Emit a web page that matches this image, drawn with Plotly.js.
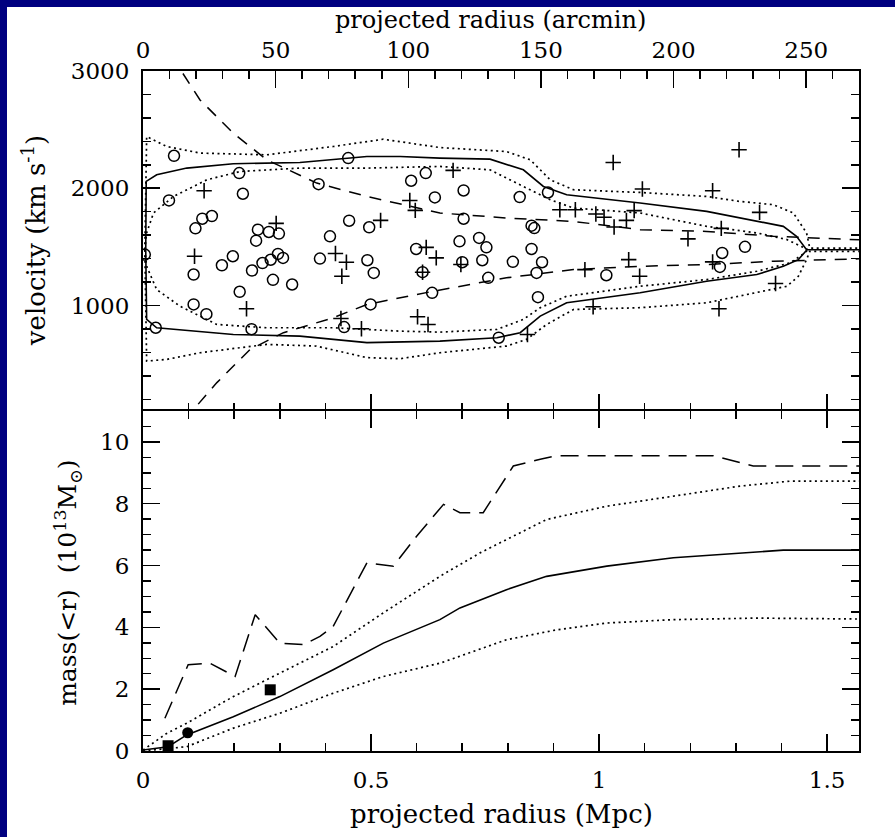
<!DOCTYPE html>
<html>
<head>
<meta charset="utf-8">
<script src="https://cdn.plot.ly/plotly-3.0.1.min.js"></script>
<style>
  html, body { margin:0; padding:0; background:#fff; width:895px; height:837px; overflow:hidden; }
  #plot { position:absolute; left:0; top:0; width:895px; height:837px; background:#fff; }
  .band { position:absolute; background:#000080; z-index:5; }
</style>
</head>
<body>
<div id="plot"></div>
<div class="band" style="left:0;top:0;width:895px;height:7px;"></div>
<div class="band" style="left:0;top:0;width:7px;height:837px;"></div>
<script>
// ---------- Top panel: galaxies (projected radius in Mpc, velocity in km/s) ----------
const circR = [0.068,0.211,0.057,0.219,0.151,0.130,0.115,0.252,0.276,0.298,0.248,0.004,0.197,0.173,0.111,0.239,0.262,0.280,0.296,0.307,0.285,0.327,0.212,0.111,0.139,0.028,0.238,0.388,0.385,
  0.450,0.588,0.620,0.703,0.640,0.452,0.496,0.410,0.492,0.506,0.599,0.613,0.694,0.737,0.753,0.700,0.744,0.757,0.703,0.634,0.499,0.441,0.780,
  0.826,0.888,0.852,0.858,0.852,0.811,0.875,0.863,0.866,1.016,
  1.320,1.270,1.265];
const circV = [2277,2129,1896,1953,1763,1740,1658,1647,1627,1613,1553,1434,1420,1343,1264,1298,1362,1390,1440,1406,1219,1179,1117,1009,926,810,798,1400,2035,
  2257,2064,2129,1981,1922,1723,1667,1590,1386,1278,1482,1284,1547,1576,1496,1369,1386,1236,1740,1108,1009,816,725,
  1925,1964,1681,1660,1482,1372,1369,1278,1071,1258,
  1500,1448,1329];
const plusR = [0.134,0.113,0.227,0.292,
  0.680,0.585,0.597,0.521,0.422,0.446,0.436,0.621,0.643,0.697,0.613,0.602,0.625,0.479,0.434,
  1.031,1.095,0.914,0.948,0.993,1.011,1.033,1.060,1.077,0.969,1.065,1.089,0.987,0.843,
  1.307,1.249,1.352,1.268,1.195,1.249,1.387,1.263];
const plusV = [1979,1420,972,1700,
  2152,1896,1811,1726,1443,1369,1249,1496,1406,1349,1284,904,838,802,889,
  2220,1993,1817,1817,1780,1752,1670,1726,1809,1306,1391,1249,989,753,
  2328,1979,1794,1658,1568,1372,1187,972];

// caustics (solid)
const causUpR = [0.006,0.007,0.030,0.096,0.198,0.344,0.491,0.564,0.651,0.761,0.834,0.878,0.929,1.090,1.236,1.346,1.404,1.433,1.455,1.570];
const causUpV = [1476,2058,2115,2172,2209,2220,2271,2271,2257,2248,2157,2015,1945,1874,1803,1717,1675,1590,1476,1476];
const causLoR = [0.006,0.008,0.030,0.198,0.344,0.491,0.651,0.776,0.827,0.871,0.929,1.090,1.236,1.346,1.404,1.437,1.455];
const causLoV = [1476,881,810,753,739,683,696,725,768,909,1023,1108,1207,1264,1334,1391,1471];

// dotted outer envelopes
const dotOutUpR = [0.004,0.008,0.052,0.125,0.271,0.417,0.527,0.651,0.797,0.849,0.893,0.944,1.090,1.236,1.308,1.382,1.426,1.455,1.462,1.570];
const dotOutUpV = [1476,2441,2356,2300,2285,2356,2418,2347,2313,2243,2072,1987,1964,1930,1888,1860,1789,1619,1490,1490];
const dotOutLoR = [0.004,0.008,0.052,0.125,0.271,0.380,0.491,0.564,0.651,0.797,0.841,0.885,0.944,1.090,1.236,1.346,1.412,1.437,1.455,1.462,1.570];
const dotOutLoV = [1476,526,540,597,668,654,555,546,597,654,711,838,966,981,1023,1108,1164,1249,1391,1462,1462];
// dotted inner envelopes
const dotInUpR = [0.004,0.008,0.023,0.067,0.140,0.213,0.344,0.491,0.651,0.761,0.834,0.893,0.944,1.090,1.236,1.346,1.412,1.448,1.458];
const dotInUpV = [1476,1619,1789,1930,2072,2143,2172,2172,2186,2157,2015,1902,1831,1789,1675,1619,1562,1491,1476];
const dotInLoR = [0.004,0.008,0.030,0.081,0.162,0.271,0.417,0.564,0.651,0.776,0.834,0.871,0.929,1.090,1.236,1.346,1.419,1.451,1.458];
const dotInLoV = [1476,1334,1136,994,838,810,810,781,773,796,881,981,1079,1164,1221,1292,1363,1448,1476];

// dashed escape-velocity curves
const dashUpR = [0.075,0.085,0.125,0.198,0.271,0.381,0.491,0.651,0.797,0.944,1.090,1.236,1.382,1.570];
const dashUpV = [3150,2994,2753,2470,2243,2044,1930,1789,1746,1717,1647,1632,1590,1560];
const dashLoR = [0.102,0.110,0.162,0.235,0.308,0.417,0.491,0.637,0.797,0.944,1.090,1.236,1.382,1.570];
const dashLoV = [0,109,342,626,768,895,1009,1122,1236,1306,1334,1349,1377,1398];

// ---------- Bottom panel: mass profile (10^13 Msun) ----------
const massR = [0,0.055,0.096,0.198,0.300,0.417,0.527,0.651,0.695,0.797,0.885,1.017,1.163,1.309,1.404,1.570];
const massM = [0.03,0.14,0.52,1.11,1.76,2.63,3.49,4.25,4.63,5.22,5.65,5.98,6.25,6.41,6.50,6.50];
const massHiR = [0,0.052,0.096,0.198,0.300,0.417,0.527,0.651,0.739,0.885,1.017,1.163,1.309,1.419,1.570];
const massHiM = [0.03,0.57,0.90,1.76,2.52,3.38,4.47,5.65,6.41,7.49,7.92,8.25,8.57,8.73,8.73];
const massLoR = [0,0.096,0.198,0.300,0.417,0.527,0.651,0.797,0.907,1.017,1.163,1.346,1.570];
const massLoM = [0,0.14,0.74,1.22,1.87,2.41,2.84,3.60,3.92,4.14,4.25,4.30,4.27];
const massDashR = [0.048,0.099,0.147,0.202,0.246,0.300,0.352,0.388,0.417,0.491,0.549,0.600,0.659,0.695,0.746,0.812,0.871,0.907,1.251,1.338,1.570];
const massDashM = [1.06,2.79,2.84,2.41,4.41,3.49,3.44,3.71,4.03,6.09,5.98,6.95,7.98,7.71,7.71,9.22,9.44,9.55,9.55,9.22,9.22];
const sqR = [0.055,0.279];
const sqM = [0.17,1.98];
const dotR = [0.098];
const dotM = [0.59];

// axis ranges
const mpcRange = [0, 1.57];
const arcminRange = [0, 269.9];
const velRange = [100, 3000];
const massRange = [0, 11];

const FONT = 'DejaVu Serif, Liberation Serif, serif';
const blk = '#000';

function line(x, y, xa, ya, dash, w) {
  return {x:x, y:y, xaxis:xa, yaxis:ya, type:'scatter', mode:'lines',
          line:{color:blk, width:w||1.5, dash:dash||'solid'}, hoverinfo:'skip'};
}
const dotted = '2px,3.5px';

const traces = [
  line(dotOutUpR, dotOutUpV, 'x2','y', dotted, 1.7),
  line(dotOutLoR, dotOutLoV, 'x2','y', dotted, 1.7),
  line(dotInUpR, dotInUpV, 'x2','y', dotted, 1.7),
  line(dotInLoR, dotInLoV, 'x2','y', dotted, 1.7),
  line(causUpR, causUpV, 'x2','y', 'solid', 1.6),
  line(causLoR, causLoV, 'x2','y', 'solid', 1.6),
  line(dashUpR, dashUpV, 'x2','y', '12px,9px'),
  line(dashLoR, dashLoV, 'x2','y', '12px,9px'),
  {x:circR, y:circV, xaxis:'x2', yaxis:'y', type:'scatter', mode:'markers',
   marker:{symbol:'circle-open', size:11, color:blk, line:{width:1.5, color:blk}}},
  {x:plusR, y:plusV, xaxis:'x2', yaxis:'y', type:'scatter', mode:'markers',
   marker:{symbol:'cross-thin-open', size:11, color:blk, line:{width:1.6, color:blk}}},
  // invisible trace so the arcmin axis is drawn
  {x:arcminRange, y:[-1e5,-1e5], xaxis:'x3', yaxis:'y', type:'scatter', mode:'markers', marker:{opacity:0}, hoverinfo:'skip'},

  line(massHiR, massHiM, 'x','y2', dotted, 1.7),
  line(massLoR, massLoM, 'x','y2', dotted, 1.7),
  line(massR, massM, 'x','y2', 'solid', 1.6),
  line(massDashR, massDashM, 'x','y2', '18px,9px'),
  {x:sqR, y:sqM, xaxis:'x', yaxis:'y2', type:'scatter', mode:'markers',
   marker:{symbol:'square', size:11, color:blk}},
  {x:dotR, y:dotM, xaxis:'x', yaxis:'y2', type:'scatter', mode:'markers',
   marker:{symbol:'circle', size:11, color:blk}}
];

const tickfont = {family:FONT, size:23, color:blk};
const minorT = {ticks:'inside', ticklen:8, tickcolor:blk, tickwidth:1.5};
const axBase = {showline:true, linecolor:blk, linewidth:2, showgrid:false, zeroline:false,
  ticks:'inside', tickcolor:blk, tickwidth:1.5, ticklen:17, tickfont:tickfont, ticklabelstandoff:7};

const layout = {
  width:895, height:837,
  margin:{l:143, r:36, t:71, b:86, pad:0},
  paper_bgcolor:'#fff', plot_bgcolor:'#fff',
  showlegend:false,
  font:{family:FONT, color:blk},
  xaxis: Object.assign({}, axBase, {domain:[0,1], anchor:'y2', range:mpcRange, dtick:0.5, tick0:0,
    mirror:'ticks', minor:Object.assign({dtick:0.1}, minorT)}),
  xaxis2: Object.assign({}, axBase, {domain:[0,1], anchor:'y', range:mpcRange, dtick:0.5, tick0:0,
    showline:false, showticklabels:false, side:'bottom', minor:Object.assign({dtick:0.1}, minorT)}),
  xaxis3: Object.assign({}, axBase, {overlaying:'x2', anchor:'y', side:'top', range:arcminRange, dtick:50, tick0:0,
    ticklabelstandoff:2, minor:Object.assign({dtick:10}, minorT)}),
  yaxis: Object.assign({}, axBase, {domain:[0.5,1], anchor:'x2', range:velRange, dtick:1000, tick0:0, tickformat:'d',
    mirror:'ticks', minor:Object.assign({dtick:200}, minorT)}),
  yaxis2: Object.assign({}, axBase, {domain:[0,0.5], anchor:'x', range:massRange, dtick:2, tick0:0,
    mirror:'ticks', minor:Object.assign({dtick:0.5}, minorT)}),
  annotations:[
    {text:'projected radius (arcmin)', xref:'paper', yref:'paper', x:0.486, y:1.075, showarrow:false,
     font:{family:FONT, size:24, color:blk}, xanchor:'center', yanchor:'middle'},
    {text:'projected radius (Mpc)', xref:'paper', yref:'paper', x:0.501, y:-0.093, showarrow:false,
     font:{family:FONT, size:26, color:blk}, xanchor:'center', yanchor:'middle'},
    {text:'velocity (km s<sup>-1</sup>)', xref:'paper', yref:'paper', x:-0.152, y:0.75, showarrow:false,
     textangle:-90, font:{family:FONT, size:26, color:blk}, xanchor:'center', yanchor:'middle'},
    {text:'mass(&lt;r)  (10<sup>13</sup>M<sub>⊙</sub>)', xref:'paper', yref:'paper', x:-0.105, y:0.247, showarrow:false,
     textangle:-90, font:{family:FONT, size:25, color:blk}, xanchor:'center', yanchor:'middle'}
  ]
};

Plotly.newPlot('plot', traces, layout, {staticPlot:true, displayModeBar:false});
</script>
</body>
</html>
